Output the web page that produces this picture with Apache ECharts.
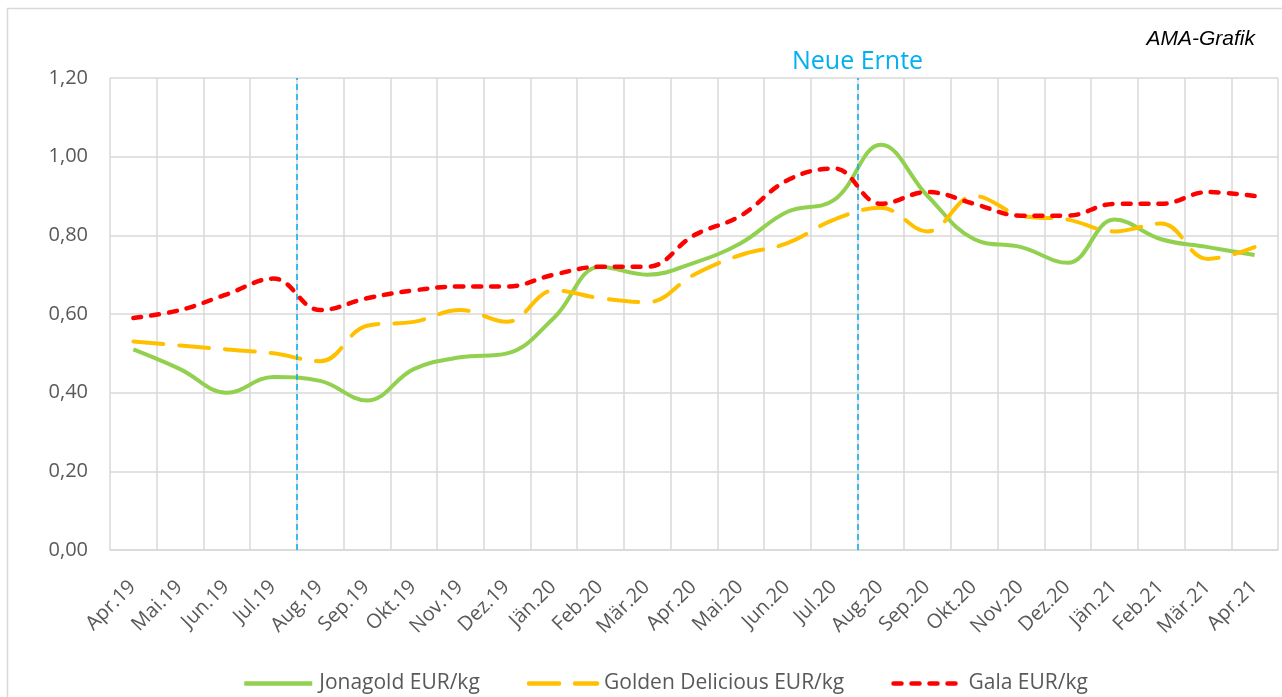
<!DOCTYPE html>
<html>
<head>
<meta charset="utf-8">
<script src="https://cdn.jsdelivr.net/npm/echarts@6/dist/echarts.min.js"></script>
<style>
  html, body { margin: 0; padding: 0; background: #fff; }
  #chart { width: 1282px; height: 697px; }
</style>
</head>
<body>
<div id="chart"></div>
<script>
const months = ['Apr.19', 'Mai.19', 'Jun.19', 'Jul.19', 'Aug.19', 'Sep.19', 'Okt.19', 'Nov.19', 'Dez.19',
  'Jän.20', 'Feb.20', 'Mär.20', 'Apr.20', 'Mai.20', 'Jun.20', 'Jul.20', 'Aug.20', 'Sep.20', 'Okt.20',
  'Nov.20', 'Dez.20', 'Jän.21', 'Feb.21', 'Mär.21', 'Apr.21'];

const jonagold = [0.51, 0.46, 0.40, 0.44, 0.43, 0.38, 0.46, 0.49, 0.50, 0.59, 0.72, 0.70, 0.73,
  0.78, 0.86, 0.89, 1.03, 0.90, 0.79, 0.77, 0.73, 0.84, 0.79, 0.77, 0.75];
const golden = [0.53, 0.52, 0.51, 0.50, 0.48, 0.57, 0.58, 0.61, 0.58, 0.66, 0.64, 0.63, 0.70,
  0.75, 0.78, 0.84, 0.87, 0.81, 0.90, 0.85, 0.84, 0.81, 0.83, 0.74, 0.77];
const gala = [0.59, 0.61, 0.65, 0.69, 0.61, 0.64, 0.66, 0.67, 0.67, 0.70, 0.72, 0.72, 0.80,
  0.85, 0.94, 0.97, 0.88, 0.91, 0.88, 0.85, 0.85, 0.88, 0.88, 0.91, 0.90];

// marker lines sit on the boundary before Aug.19 and Aug.20
const markerPos = [4, 16];
const markerText = ['', 'Neue Ernte'];

const font = 'Open Sans';
const grey = '#595959';

const chart = echarts.init(document.getElementById('chart'), null, { renderer: 'canvas' });

const option = {
  animation: false,
  title: {
    text: 'AMA-Grafik',
    right: 22,
    top: 24,
    textStyle: { fontFamily: 'Liberation Sans', fontStyle: 'italic', fontWeight: 'normal', fontSize: 21, color: '#000' },
  },
  graphic: [{
    type: 'rect',
    shape: { x: 7.5, y: 8.5, width: 1300, height: 700 },
    style: { fill: 'none', stroke: '#d9d9d9', lineWidth: 1.5 },
    silent: true,
  }],
  grid: { left: 110, right: 4, top: 78, bottom: 147 },
  legend: {
    data: ['Jonagold EUR/kg', 'Golden Delicious EUR/kg', 'Gala EUR/kg'],
    left: 237,
    top: 668,
    itemWidth: 68,
    itemHeight: 22,
    itemGap: 47,
    itemStyle: { opacity: 0 },
    lineStyle: { width: 4.5 },
    textStyle: { fontFamily: font, fontSize: 21, color: grey, padding: [0, 0, 0, 2] },
  },
  xAxis: [
    {
      type: 'category',
      data: months,
      boundaryGap: true,
      axisLine: { lineStyle: { color: '#d9d9d9', width: 1.5 } },
      axisTick: { show: false },
      splitLine: { show: true, lineStyle: { color: '#d9d9d9', width: 1.5 } },
      axisLabel: {
        rotate: 45,
        interval: 0,
        margin: 19,
        padding: [0, 11, 0, 0],
        verticalAlign: 'top',
        fontFamily: font,
        fontSize: 20,
        color: grey,
      },
    },
    { type: 'value', min: 0, max: 25, show: false },
  ],
  yAxis: {
    type: 'value',
    min: 0,
    max: 1.2,
    interval: 0.2,
    axisLine: { show: false },
    axisTick: { show: false },
    splitLine: { lineStyle: { color: '#d9d9d9', width: 1.5 } },
    axisLabel: {
      margin: 22,
      fontFamily: font,
      fontSize: 20,
      color: grey,
      formatter: (v) => v.toFixed(2).replace('.', ','),
    },
  },
  series: [
    {
      name: 'Jonagold EUR/kg',
      type: 'line',
      data: jonagold,
      smooth: 0.4,
      showSymbol: false,
      symbol: 'none',
      itemStyle: { color: '#92D050' },
      lineStyle: { color: '#92D050', width: 4 },
      z: 3,
    },
    {
      name: 'Golden Delicious EUR/kg',
      type: 'line',
      data: golden,
      smooth: 0.4,
      showSymbol: false,
      symbol: 'none',
      itemStyle: { color: '#FFC000' },
      lineStyle: { color: '#FFC000', width: 4, type: [30, 16], cap: 'round' },
      z: 4,
    },
    {
      name: 'Gala EUR/kg',
      type: 'line',
      data: gala,
      smooth: 0.4,
      showSymbol: false,
      symbol: 'none',
      itemStyle: { color: '#FF0000' },
      lineStyle: { color: '#FF0000', width: 4.5, type: [8, 10], cap: 'round' },
      z: 5,
    },
    {
      name: 'marker',
      type: 'line',
      xAxisIndex: 1,
      data: [],
      markLine: {
        silent: true,
        symbol: 'none',
        lineStyle: { color: '#00B0F0', width: 1.5, type: [6, 4] },
        data: markerPos.map((p, i) => ({
          xAxis: p,
          label: {
            show: markerText[i] !== '',
            formatter: markerText[i],
            position: 'end',
            distance: 4,
            fontFamily: font,
            fontSize: 25,
            color: '#00B0F0',
          },
        })),
      },
    },
  ],
};

chart.setOption(option);
</script>
</body>
</html>
